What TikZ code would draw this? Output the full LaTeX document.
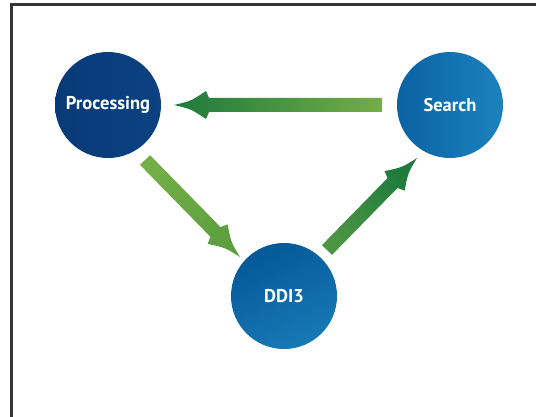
\documentclass[tikz,border=0pt]{standalone}
\usepackage{fontspec}
\setmainfont{PT Sans}
\usetikzlibrary{calc}
\definecolor{frameC}{HTML}{353535}
\definecolor{procA}{HTML}{083A77}
\definecolor{procB}{HTML}{0B4282}
\definecolor{srchA}{HTML}{0A62A3}
\definecolor{srchB}{HTML}{1C82BE}
\definecolor{ddiA}{HTML}{045898}
\definecolor{ddiB}{HTML}{1879B6}
\definecolor{gDark}{HTML}{1E7A3C}
\definecolor{gMid}{HTML}{4C9543}
\definecolor{gLight}{HTML}{73AE47}
\definecolor{gMid2}{HTML}{5C9F3F}
\tikzset{
  hub/.style={circle, minimum size=106pt, inner sep=0pt, text=white,
    font=\fontsize{18.5}{22}\selectfont\bfseries},
}
\newcommand{\fatarrow}[3]{%
  \coordinate (hb) at ($(#2)!32pt!(#1)$);
  \coordinate (hc) at ($(#2)!35pt!(#1)$);
  \coordinate (hm) at ($(#2)!17pt!(#1)$);
  \shade[#3] ($(#1)!7pt!-90:(#2)$) -- ($(hc)!7pt!90:(#1)$) -- ($(hb)!14pt!90:(#1)$)
    .. controls ($(hm)!4pt!90:(#1)$) .. (#2)
    .. controls ($(hm)!4pt!-90:(#1)$) .. ($(hb)!14pt!-90:(#1)$)
    -- ($(hc)!7pt!-90:(#1)$) -- ($(#1)!7pt!90:(#2)$) -- cycle;}
\begin{document}
\begin{tikzpicture}[x=1pt,y=-1pt]
\useasboundingbox (0,0) rectangle (536,417);
\fill[white] (0,0) rectangle (536,417);
\draw[frameC, line width=3pt] (11.5,420) -- (11.5,4.5) -- (540,4.5);
\node[hub, left color=procA, right color=procB] (proc) at (108,105) {Processing};
\node[hub, left color=srchA, right color=srchB] (search) at (450,105) {Search};
\node[hub, top color=ddiA, bottom color=ddiB, shading angle=25] (ddi) at (284,296) {DDI3};
\coordinate (a0t) at ($(search.center)+(-68,0)$);
\coordinate (a0h) at ($(proc.center)+(66,0)$);
\coordinate (a1t) at ($(proc.center)+(37,55)$);
\coordinate (a1h) at ($(ddi.center)+(-44,-39)$);
\coordinate (a2t) at ($(ddi.center)+(43,-46)$);
\coordinate (a2h) at ($(search.center)+(-33,53)$);
\fatarrow{a0t}{a0h}{left color=gDark, right color=gLight}
\fatarrow{a1t}{a1h}{top color=gLight, bottom color=gMid2, shading angle=45}
\fatarrow{a2t}{a2h}{top color=gDark, bottom color=gMid, shading angle=-45}
\end{tikzpicture}
\end{document}
